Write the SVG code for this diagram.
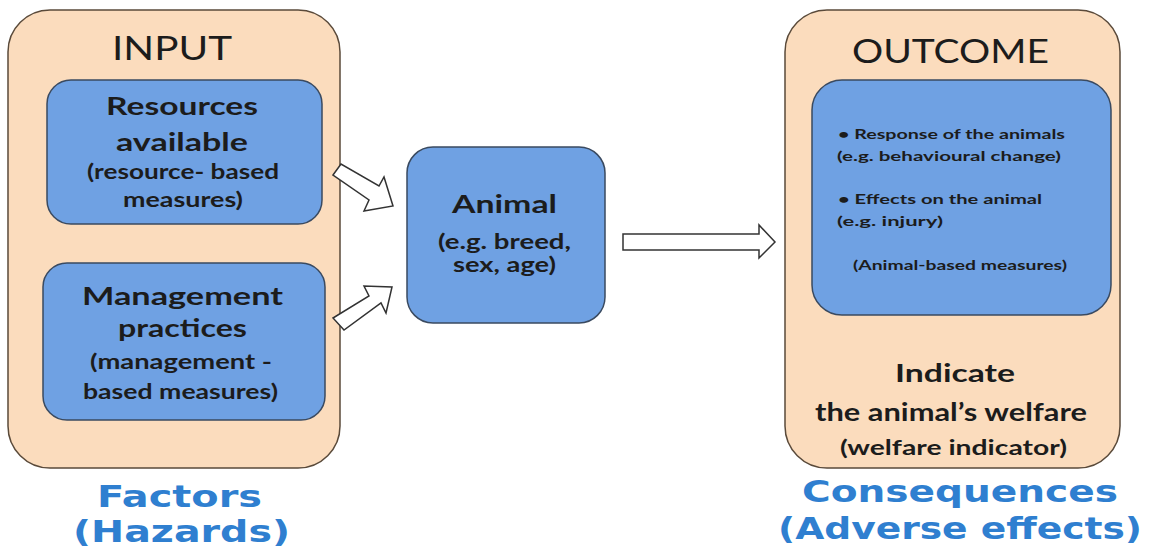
<svg xmlns="http://www.w3.org/2000/svg" width="1154" height="552" viewBox="0 0 1154 552">
<style>
.panel{fill:#fbdcbd;stroke:#5a4a3a;stroke-width:1.5}
.box{fill:#6fa1e3;stroke:#3a4a60;stroke-width:1.5}
.arrow{fill:#fff;stroke:#333;stroke-width:1.5;stroke-linejoin:miter}
text{font-family:Lato,"Open Sans","Liberation Sans",sans-serif;fill:#1c1c1c;text-anchor:start}
.title{font-size:33px;font-weight:400}
.big{font-size:25px;font-weight:700}
.mid{font-size:20px;font-weight:700}
.small{font-size:14px;font-weight:700}
.foot{font-family:"DejaVu Sans","Liberation Sans",sans-serif;font-size:31px;font-weight:700;fill:#2f7fd0}
</style>
<rect width="1154" height="552" fill="#fff"/>
<g id="input">
<rect class="panel" x="8" y="10" width="332" height="458" rx="42"/>
<text class="title" x="112" y="60" textLength="120" lengthAdjust="spacingAndGlyphs">INPUT</text>
</g>
<g id="resources">
<rect class="box" x="47" y="80" width="275" height="144" rx="24"/>
<text class="big" x="106" y="115" textLength="152" lengthAdjust="spacingAndGlyphs">Resources</text>
<text class="big" x="116" y="151" textLength="132" lengthAdjust="spacingAndGlyphs">available</text>
<text class="mid" x="87" y="179" textLength="192" lengthAdjust="spacingAndGlyphs">(resource- based</text>
<text class="mid" x="123" y="207" textLength="120" lengthAdjust="spacingAndGlyphs">measures)</text>
</g>
<g id="management">
<rect class="box" x="43" y="263" width="282" height="157" rx="24"/>
<text class="big" x="82" y="305" textLength="201" lengthAdjust="spacingAndGlyphs">Management</text>
<text class="big" x="118" y="337" textLength="129" lengthAdjust="spacingAndGlyphs">practices</text>
<text class="mid" x="90" y="369" textLength="182" lengthAdjust="spacingAndGlyphs">(management -</text>
<text class="mid" x="83" y="399" textLength="195" lengthAdjust="spacingAndGlyphs">based measures)</text>
</g>
<g id="animal">
<rect class="box" x="407" y="147" width="198" height="176" rx="26"/>
<text class="big" x="452" y="213" textLength="105" lengthAdjust="spacingAndGlyphs">Animal</text>
<text class="mid" x="438" y="249" textLength="133" lengthAdjust="spacingAndGlyphs">(e.g. breed,</text>
<text class="mid" x="453" y="272" textLength="103" lengthAdjust="spacingAndGlyphs">sex, age)</text>
</g>
<g id="outcome">
<rect class="panel" x="785" y="10" width="335" height="458" rx="42"/>
<text class="title" x="852" y="63" textLength="197" lengthAdjust="spacingAndGlyphs">OUTCOME</text>
<text class="big" x="895" y="382" textLength="120" lengthAdjust="spacingAndGlyphs">Indicate</text>
<text class="big" x="815" y="421" textLength="272" lengthAdjust="spacingAndGlyphs">the animal’s welfare</text>
<text class="mid" x="840" y="455" textLength="227" lengthAdjust="spacingAndGlyphs">(welfare indicator)</text>
</g>
<g id="measures">
<rect class="box" x="812" y="80" width="299" height="235" rx="30"/>
<text class="small" x="838" y="139" textLength="227" lengthAdjust="spacingAndGlyphs">• Response of the animals</text>
<text class="small" x="837" y="161" textLength="224" lengthAdjust="spacingAndGlyphs">(e.g. behavioural change)</text>
<text class="small" x="838" y="204" textLength="204" lengthAdjust="spacingAndGlyphs">• Effects on the animal</text>
<text class="small" x="837" y="226" textLength="106" lengthAdjust="spacingAndGlyphs">(e.g. injury)</text>
<text class="small" x="853" y="270" textLength="214" lengthAdjust="spacingAndGlyphs">(Animal-based measures)</text>
</g>
<g id="labels">
<text class="foot" x="97" y="507" textLength="165" lengthAdjust="spacingAndGlyphs">Factors</text>
<text class="foot" x="73" y="542" textLength="217" lengthAdjust="spacingAndGlyphs">(Hazards)</text>
<text class="foot" x="802" y="502" textLength="316" lengthAdjust="spacingAndGlyphs">Consequences</text>
<text class="foot" x="778" y="539" textLength="364" lengthAdjust="spacingAndGlyphs">(Adverse effects)</text>
</g>
<g id="connectors">
<polygon class="arrow" points="333,175 341,164 379,186 384,177 393,206 364,211 369,200"/>
<polygon class="arrow" points="344,330 333,318 369,296 364,286 392,287 386,313 381,303"/>
<polygon class="arrow" points="623,234 759,234 759,225 775,242 759,258 759,250 623,250"/>
</g>
</svg>
